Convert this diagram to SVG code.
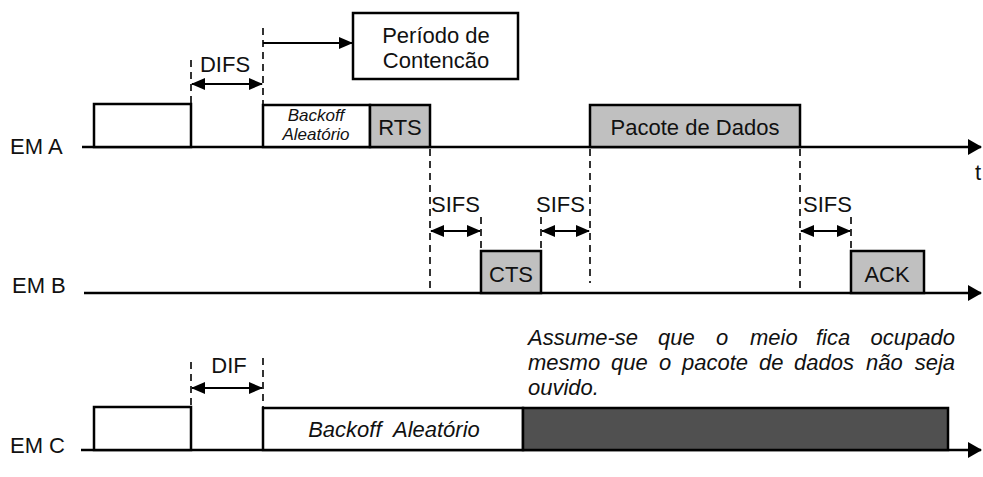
<svg xmlns="http://www.w3.org/2000/svg" width="983" height="477" viewBox="0 0 983 477">
<defs>
<style>
text{font-family:"Liberation Sans",Arial,sans-serif;font-size:22px;fill:#111}
.it{font-style:italic}
.c{text-anchor:middle}
.e{text-anchor:end}
.sm{font-size:17px}
.axis{stroke:#000;stroke-width:2.5;fill:none}
.box{stroke:#000;stroke-width:2.5}
.w{fill:#fff}
.g{fill:#c0c0c0}
.d{fill:#505050}
.dash{stroke:#000;stroke-width:1.6;stroke-dasharray:7,5;fill:none}
.arr{stroke:#000;stroke-width:2;fill:none}
</style>
<marker id="ah" viewBox="0 0 14 12" refX="13" refY="6" markerWidth="14" markerHeight="12" markerUnits="userSpaceOnUse" orient="auto-start-reverse"><path d="M0,0 L14,6 L0,12 z" fill="#000"/></marker>
<marker id="ax" viewBox="0 0 14 16" refX="13" refY="8" markerWidth="14" markerHeight="16" markerUnits="userSpaceOnUse" orient="auto"><path d="M0,0 L14,8 L0,16 z" fill="#000"/></marker>
</defs>
<rect width="983" height="477" fill="#fff"/>

<g id="stationA">
<text x="10" y="154">EM A</text>
<line class="axis" x1="82" y1="147" x2="981" y2="147" marker-end="url(#ax)"/>
<text x="975" y="180">t</text>
</g>
<g id="stationB">
<text x="12" y="293">EM B</text>
<line class="axis" x1="84" y1="293" x2="981" y2="293" marker-end="url(#ax)"/>
</g>
<g id="stationC">
<text x="10" y="453">EM C</text>
<line class="axis" x1="81" y1="450" x2="981" y2="450" marker-end="url(#ax)"/>
</g>

<g id="contention">
<rect class="box w" x="353" y="13" width="165" height="66"/>
<text class="c" x="436" y="43">Período de</text>
<text class="c" x="436" y="68">Contencão</text>
</g>

<g id="a-frame1"><rect class="box w" x="94" y="104" width="97" height="43"/></g>
<g id="a-backoff">
<rect class="box w" x="263" y="105" width="107" height="42"/>
<text class="it c sm" x="316" y="121">Backoff</text>
<text class="it c sm" x="316" y="140">Aleatório</text>
</g>
<g id="a-rts"><rect class="box g" x="370" y="105" width="60" height="42"/><text class="c" x="400" y="135">RTS</text></g>
<g id="a-data"><rect class="box g" x="590" y="105" width="210" height="42"/><text class="c" x="695" y="135">Pacote de Dados</text></g>

<g id="b-cts"><rect class="box g" x="481" y="251" width="60" height="42"/><text class="c" x="511" y="282">CTS</text></g>
<g id="b-ack"><rect class="box g" x="851" y="251" width="73" height="42"/><text class="c" x="887" y="282">ACK</text></g>

<g id="c-frame1"><rect class="box w" x="94" y="407" width="97" height="43"/></g>
<g id="c-backoff"><rect class="box w" x="263" y="408" width="260" height="42"/><text class="it c" x="394" y="437" xml:space="preserve">Backoff  Aleatório</text></g>
<g id="c-busy"><rect class="box d" x="523" y="408" width="425" height="42"/></g>

<g id="labels">
<text class="c" x="225" y="72">DIFS</text>
<text x="431" y="212">SIFS</text>
<text x="536" y="212">SIFS</text>
<text x="803" y="212">SIFS</text>
<text class="c" x="229" y="373">DIF</text>
</g>

<g id="note" class="it">
<text x="528" y="345">Assume-se</text>
<text x="658" y="345">que</text>
<text x="716" y="345">o</text>
<text x="750" y="345">meio</text>
<text x="816" y="345">fica</text>
<text class="e" x="955" y="345">ocupado</text>
<text x="528" y="370">mesmo</text>
<text x="611" y="370">que</text>
<text x="659" y="370">o</text>
<text x="682" y="370">pacote</text>
<text x="759" y="370">de</text>
<text x="794" y="370">dados</text>
<text x="866" y="370">não</text>
<text class="e" x="955" y="370">seja</text>
<text x="528" y="395">ouvido.</text>
</g>

<g id="connectors">
<line class="dash" x1="191" y1="60" x2="191" y2="104"/>
<line class="dash" x1="263" y1="28" x2="263" y2="105"/>
<line class="arr" x1="192" y1="84" x2="262" y2="84" marker-start="url(#ah)" marker-end="url(#ah)"/>
<line class="arr" x1="263" y1="43" x2="352" y2="43" marker-end="url(#ah)"/>
<line class="dash" x1="430" y1="149" x2="430" y2="293"/>
<line class="dash" x1="590" y1="149" x2="590" y2="283"/>
<line class="dash" x1="800" y1="149" x2="800" y2="293"/>
<line class="dash" x1="481" y1="217" x2="481" y2="251"/>
<line class="dash" x1="541" y1="217" x2="541" y2="251"/>
<line class="dash" x1="851" y1="217" x2="851" y2="251"/>
<line class="arr" x1="431" y1="231" x2="480" y2="231" marker-start="url(#ah)" marker-end="url(#ah)"/>
<line class="arr" x1="542" y1="231" x2="589" y2="231" marker-start="url(#ah)" marker-end="url(#ah)"/>
<line class="arr" x1="801" y1="231" x2="850" y2="231" marker-start="url(#ah)" marker-end="url(#ah)"/>
<line class="dash" x1="191" y1="362" x2="191" y2="407"/>
<line class="dash" x1="263" y1="358" x2="263" y2="408"/>
<line class="arr" x1="192" y1="388" x2="262" y2="388" marker-start="url(#ah)" marker-end="url(#ah)"/>
</g>
</svg>
